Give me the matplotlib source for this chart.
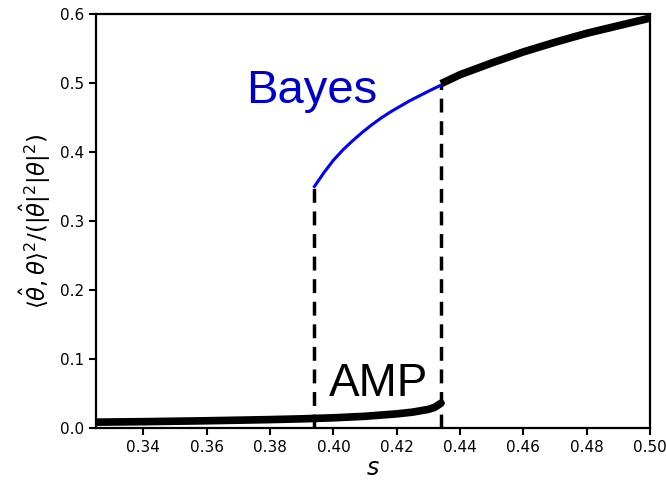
import numpy as np
import matplotlib
matplotlib.use("Agg")
import matplotlib.pyplot as plt

# AMP (low branch)
amp_s = [0.325, 0.34, 0.36, 0.38, 0.39, 0.40, 0.41, 0.42, 0.425, 0.43, 0.432, 0.434]
amp_v = [0.0085, 0.0092, 0.0105, 0.0122, 0.0133, 0.0148, 0.0170, 0.0205, 0.0230, 0.0270, 0.0300, 0.0360]

# high branch (both Bayes and AMP)
hi_s = [0.434, 0.44, 0.45, 0.46, 0.47, 0.48, 0.49, 0.50]
hi_v = [0.499, 0.512, 0.529, 0.545, 0.559, 0.572, 0.583, 0.594]

# Bayes (metastable branch)
bayes_s = [0.394, 0.397, 0.400, 0.403, 0.406, 0.409, 0.412, 0.415, 0.418,
           0.421, 0.424, 0.427, 0.430, 0.434]
bayes_v = [0.350, 0.370, 0.388, 0.403, 0.416, 0.428, 0.439, 0.449, 0.458,
           0.466, 0.474, 0.481, 0.488, 0.497]

# transitions
trans_s = [0.394, 0.434]
trans_lo = [0.0, 0.0]
trans_hi = [0.350, 0.499]

fig = plt.figure(figsize=(6.66, 4.82), dpi=100)
ax = fig.add_axes([0.144, 0.112, 0.832, 0.859])

ax.plot(bayes_s, bayes_v, color='#0000ff', lw=2.2, zorder=3)
ax.plot(amp_s, amp_v, color='black', lw=5.5, solid_capstyle='round', zorder=4)
ax.plot(hi_s, hi_v, color='black', lw=5.5, solid_capstyle='butt', zorder=4)
for s, lo, hi in zip(trans_s, trans_lo, trans_hi):
    ax.plot([s, s], [lo, hi], color='black', lw=2.5, ls=(0, (4, 2.5)), zorder=2)

ax.set_xlim(0.325, 0.50)
ax.set_ylim(0.0, 0.6)
ax.set_xticks([0.34, 0.36, 0.38, 0.40, 0.42, 0.44, 0.46, 0.48, 0.50])
ax.set_yticks([0.0, 0.1, 0.2, 0.3, 0.4, 0.5, 0.6])
ax.tick_params(labelsize=11, width=1.5, length=5)
for sp in ax.spines.values():
    sp.set_linewidth(1.6)

ax.set_xlabel(r'$s$', fontsize=17, labelpad=1)
ax.set_ylabel(r'$\langle\hat{\theta},\theta\rangle^2/(|\hat{\theta}|^2|\theta|^2)$', fontsize=16.5, labelpad=5)

ax.text(0.3725, 0.471, 'Bayes', color='#0000cc', fontsize=34, family='Liberation Sans')
ax.text(0.3985, 0.046, 'AMP', color='black', fontsize=33, family='Liberation Sans')

fig.savefig('out.png', dpi=100)
